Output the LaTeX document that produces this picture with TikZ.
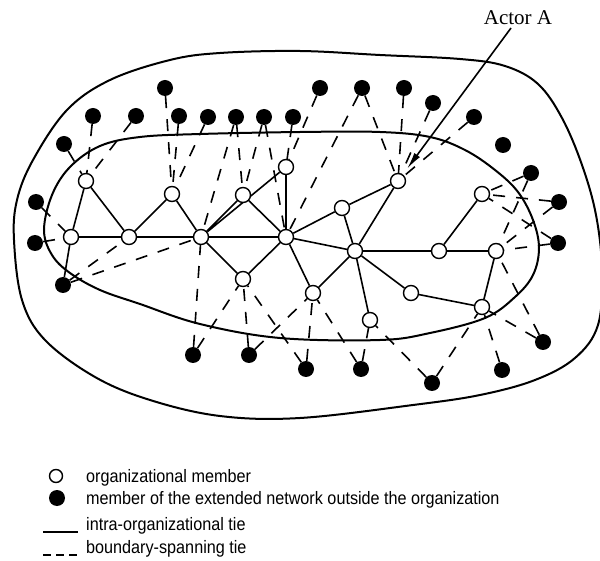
\documentclass[tikz,border=0pt]{standalone}
\usepackage{fontspec}
\newfontfamily\legendfont[FakeStretch=0.9]{Liberation Sans}
\newfontfamily\labelfont{Liberation Serif}
\usetikzlibrary{arrows.meta}
\pgfdeclarelayer{bg}
\pgfsetlayers{bg,main}
\begin{document}
\begin{tikzpicture}[x=1pt,y=-1pt,
  org/.style={circle,draw,line width=1.4pt,fill=white,minimum size=15pt,inner sep=0pt},
  ext/.style={circle,fill=black,minimum size=16pt,inner sep=0pt},
  intra/.style={line width=1.6pt},
  span/.style={line width=1.6pt,dash pattern=on 12pt off 11pt},
  bound/.style={line width=2pt},
  legtext/.style={anchor=base west,inner sep=0pt,font=\legendfont\fontsize{18}{20}\selectfont}]
\path[use as bounding box] (0,0) rectangle (600,561);
% boundaries
\draw[bound] plot[smooth cycle,tension=0.6] coordinates {
 (14,240) (22,300) (45,340) (95,377) (150,400) (220,416) (300,418) (413,405)
 (480,395) (535,380) (575,358) (598,325) (602,270) (596,215) (582,165) (562,118)
 (538,84) (505,66) (460,59) (380,55) (300,51) (220,53) (170,60) (110,80) (67,110) (33,160) (17,200)};
\draw[bound] plot[smooth cycle,tension=0.6] coordinates {
 (44,230) (52,195) (70,167) (100,146) (140,137) (200,134) (300,132) (380,132)
 (430,137) (465,150) (495,170) (518,192) (533,220) (539,248) (533,275) (515,297)
 (485,318) (430,333) (380,340) (280,338) (200,324) (140,304) (100,290) (70,273) (52,255)};
% organizational members
\node[org] (o1) at (86,181) {};
\node[org] (o2) at (172,194) {};
\node[org] (o3) at (243,195) {};
\node[org] (o4) at (286,167) {};
\node[org] (o5) at (398,181) {};
\node[org] (o6) at (342,208) {};
\node[org] (o7) at (482,194) {};
\node[org] (o8) at (71,237) {};
\node[org] (o9) at (129,237) {};
\node[org] (o10) at (201,237) {};
\node[org] (o11) at (286,237) {};
\node[org] (o12) at (355,251) {};
\node[org] (o13) at (439,251) {};
\node[org] (o14) at (496,251) {};
\node[org] (o15) at (243,279) {};
\node[org] (o16) at (313,293) {};
\node[org] (o17) at (411,293) {};
\node[org] (o18) at (482,307) {};
\node[org] (o19) at (370,320) {};
% external members
\node[ext] (t1) at (165,88) {};
\node[ext] (t2) at (93,116) {};
\node[ext] (t3) at (136,116) {};
\node[ext] (t4) at (179,116) {};
\node[ext] (t5) at (208,117) {};
\node[ext] (t6) at (236,117) {};
\node[ext] (t7) at (264,117) {};
\node[ext] (t8) at (293,117) {};
\node[ext] (t9) at (320,88) {};
\node[ext] (t10) at (362,88) {};
\node[ext] (t11) at (404,88) {};
\node[ext] (t12) at (433,103) {};
\node[ext] (t13) at (474,117) {};
\node[ext] (t14) at (503,145) {};
\node[ext] (t15) at (531,173) {};
\node[ext] (t16) at (559,202) {};
\node[ext] (t17) at (558,243) {};
\node[ext] (b1) at (543,342) {};
\node[ext] (b2) at (502,370) {};
\node[ext] (b3) at (432,383) {};
\node[ext] (b4) at (361,369) {};
\node[ext] (b5) at (306,369) {};
\node[ext] (b6) at (249,355) {};
\node[ext] (b7) at (193,355) {};
\node[ext] (l1) at (64,144) {};
\node[ext] (l2) at (36,202) {};
\node[ext] (l3) at (35,243) {};
\node[ext] (l4) at (63,285) {};
\begin{pgfonlayer}{bg}
% intra-organizational ties
\draw[intra] (o1)--(o8) (o1)--(o9) (o9)--(o2) (o2)--(o10)
 (o8)--(o9) (o9)--(o10) (o10)--(o11) (o10)--(o3) (o10)--(o4)
 (o3)--(o11) (o4)--(o11) (o11)--(o6) (o6)--(o5) (o11)--(o12) (o6)--(o12)
 (o12)--(o5) (o10)--(o15) (o11)--(o15) (o11)--(o16) (o12)--(o16)
 (o12)--(o19) (o12)--(o13) (o12)--(o17) (o13)--(o7) (o13)--(o14)
 (o14)--(o18) (o17)--(o18) (o8)--(l4);
% boundary-spanning ties
\draw[span] (l1)--(o1); \draw[span] (t2)--(o1); \draw[span] (t3)--(o1);
\draw[span] (t1)--(o2); \draw[span] (t4)--(o2); \draw[span] (t5)--(o2);
\draw[span] (t6)--(o10); \draw[span] (t6)--(o3); \draw[span] (t7)--(o3);
\draw[span] (t7)--(o11); \draw[span] (t8)--(o4); \draw[span] (t9)--(o4);
\draw[span] (t10)--(o11); \draw[span] (t10)--(o5); \draw[span] (t11)--(o5);
\draw[span] (t12)--(o5); \draw[span] (t13)--(o5);
\draw[span] (t15)--(o7); \draw[span] (t16)--(o7); \draw[span] (t17)--(o7);
\draw[span] (t15)--(o14); \draw[span] (t16)--(o14); \draw[span] (t17)--(o14);
\draw[span] (b1)--(o14); \draw[span] (b1)--(o18); \draw[span] (b2)--(o18);
\draw[span] (b3)--(o18); \draw[span] (b3)--(o19); \draw[span] (b4)--(o19);
\draw[span] (b4)--(o16); \draw[span] (b5)--(o16); \draw[span] (b5)--(o15);
\draw[span] (b6)--(o16); \draw[span] (b6)--(o15); \draw[span] (b7)--(o15);
\draw[span] (b7)--(o10);
\draw[span] (l2)--(o8); \draw[span] (l3)--(o8); \draw[span] (l4)--(o9); \draw[span] (l4)--(o10);
\end{pgfonlayer}
% Actor A
\node[anchor=base,inner sep=0pt,font=\labelfont\fontsize{21}{23}\selectfont] (actor) at (518,25) {Actor A};
\coordinate (astart) at (511,28);
\draw[line width=1.6pt,-{Latex[length=17pt,width=7pt]},shorten >=7pt] (astart) -- (o5);
% legend
\node[org,minimum size=13pt] (legorg) at (56,476) {};
\node[ext,minimum size=16pt] (legext) at (57,498) {};
\node[legtext] (lt1) at (86,482) {organizational member};
\node[legtext] (lt2) at (86,504) {member of the extended network outside the organization};
\node[legtext] (lt3) at (86,530) {intra-organizational tie};
\node[legtext] (lt4) at (86,553) {boundary-spanning tie};
\coordinate (la1) at (43,532); \coordinate (la2) at (78,532);
\coordinate (lb1) at (43,555); \coordinate (lb2) at (78,555);
\draw[line width=1.2pt] (la1) -- (la2);
\draw[line width=1.2pt,dash pattern=on 8pt off 5pt] (lb1) -- (lb2);
\end{tikzpicture}
\end{document}
